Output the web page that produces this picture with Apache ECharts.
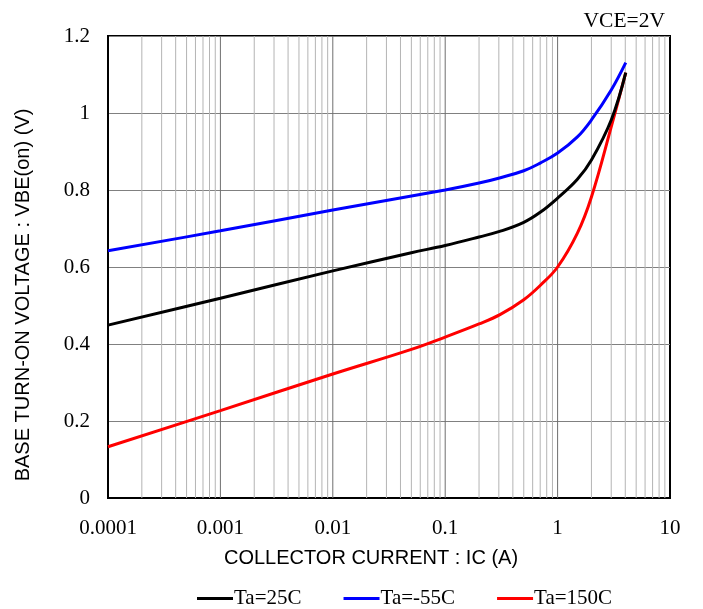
<!DOCTYPE html>
<html>
<head>
<meta charset="utf-8">
<script src="https://cdn.jsdelivr.net/npm/echarts@6/dist/echarts.min.js"></script>
<style>
html,body{margin:0;padding:0;background:#fff;}
#chart{width:703px;height:609px;}
</style>
</head>
<body>
<div id="chart"></div>
<script>
// ---- data ----
const seriesNames = ['Ta=25C', 'Ta=-55C', 'Ta=150C'];
const ic25  = [0.0001, 0.001, 0.01, 0.05, 0.1, 0.2, 0.31, 0.5, 0.7, 1, 1.5, 2, 3, 4.04];
const vbe25 = [0.449, 0.519, 0.590, 0.637, 0.656, 0.678, 0.693, 0.716, 0.742, 0.779, 0.828, 0.878, 0.982, 1.105];
const icM55  = [0.0001, 0.001, 0.01, 0.1, 0.2, 0.31, 0.5, 0.7, 1, 1.5, 2, 3, 4.04];
const vbeM55 = [0.642, 0.694, 0.748, 0.800, 0.818, 0.832, 0.850, 0.870, 0.896, 0.938, 0.982, 1.060, 1.131];
const ic150  = [0.0001, 0.001, 0.01, 0.05, 0.1, 0.2, 0.31, 0.5, 0.7, 1, 1.5, 2, 3, 4.04];
const vbe150 = [0.133, 0.227, 0.322, 0.386, 0.418, 0.452, 0.477, 0.515, 0.552, 0.600, 0.688, 0.782, 0.964, 1.105];
const xTickLabels = ['0.0001', '0.001', '0.01', '0.1', '1', '10'];
const yTickLabels = ['0', '0.2', '0.4', '0.6', '0.8', '1', '1.2'];
const colors = ['#000000', '#0000ff', '#ff0000'];

const zip = (a, b) => a.map((v, i) => [v, b[i]]);

// vertical gridlines: minor at 2..9 x each decade, major at decades
const minorX = [];
for (let d = -4; d <= 0; d++) {
  for (let m = 2; m <= 9; m++) minorX.push(m * Math.pow(10, d));
}
const majorX = [0.001, 0.01, 0.1, 1];

const serif = 'Liberation Serif';
const sans = 'Liberation Sans';

const chart = echarts.init(document.getElementById('chart'));
const data = [zip(ic25, vbe25), zip(icM55, vbeM55), zip(ic150, vbe150)];

const series = [];
minorX.forEach(v => series.push({
  type: 'line', silent: true, symbol: 'none', data: [[v, 0], [v, 1.2]],
  lineStyle: {color: '#b4b4b4', width: 1}, z: 1, animation: false
}));
majorX.forEach(v => series.push({
  type: 'line', silent: true, symbol: 'none', data: [[v, 0], [v, 1.2]],
  lineStyle: {color: '#6e6e6e', width: 1}, z: 1, animation: false
}));
seriesNames.forEach((n, i) => series.push({
  name: n,
  type: 'line',
  data: data[i],
  smooth: 0.4,
  showSymbol: false,
  symbol: 'none',
  lineStyle: {color: colors[i], width: 3},
  itemStyle: {color: colors[i]},
  z: 5 + (2 - i)
}));

chart.setOption({
  animation: false,
  backgroundColor: '#fff',
  title: {
    text: 'VCE=2V',
    right: 33,
    top: 5,
    textStyle: {fontFamily: serif, fontSize: 21.5, fontWeight: 'normal', color: '#000'}
  },
  grid: {left: 108, right: 33, top: 36, bottom: 111, show: true, borderColor: '#000', borderWidth: 2, backgroundColor: 'transparent'},
  legend: {
    data: seriesNames,
    top: 583,
    left: 192,
    icon: 'rect',
    itemWidth: 36,
    itemHeight: 3,
    itemGap: 42,
    textStyle: {fontFamily: serif, fontSize: 21, color: '#000', padding: [0, 0, 0, -4]}
  },
  xAxis: {
    type: 'log',
    logBase: 10,
    min: 0.0001,
    max: 10,
    name: 'COLLECTOR CURRENT : IC (A)',
    nameLocation: 'middle',
    nameGap: 50,
    nameTextStyle: {fontFamily: sans, fontSize: 20, color: '#000', padding: [0, 36, 0, 0]},
    axisLine: {show: true, lineStyle: {color: '#000', width: 2}},
    axisTick: {show: false},
    axisLabel: {
      fontFamily: serif, fontSize: 21, color: '#000', margin: 20,
      formatter: v => xTickLabels[Math.round(Math.log10(v)) + 4]
    },
    splitLine: {show: false}
  },
  yAxis: {
    type: 'value',
    min: 0,
    max: 1.2,
    interval: 0.2,
    name: 'BASE TURN-ON VOLTAGE : VBE(on) (V)',
    nameLocation: 'middle',
    nameGap: 75,
    nameTextStyle: {fontFamily: sans, fontSize: 20, color: '#000', padding: [0, 56, 0, 0]},
    axisLine: {show: true, lineStyle: {color: '#000', width: 2}},
    axisTick: {show: false},
    axisLabel: {
      fontFamily: serif, fontSize: 21, color: '#000', margin: 18,
      formatter: v => yTickLabels[Math.round(v / 0.2)]
    },
    splitLine: {show: true, lineStyle: {color: '#808080', width: 1}}
  },
  series: series
});
</script>
</body>
</html>
